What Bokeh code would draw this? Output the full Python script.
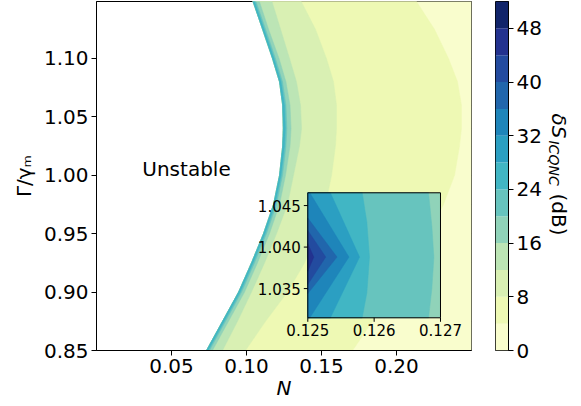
import math
from bokeh.plotting import figure
from bokeh.models import Range1d, FixedTicker, PrintfTickFormatter, ColumnDataSource, Label
from bokeh.layouts import row
from bokeh.embed import file_html
from bokeh.resources import INLINE
from bokeh.core.properties import value

# ---------------- data ----------------
LEVELS = [0, 4, 8, 12, 16, 20, 24, 28, 32, 36, 40, 44, 48, 52]
CB_TICKS = [0, 8, 16, 24, 32, 40, 48]
X_TICKS = [0.05, 0.10, 0.15, 0.20]
Y_TICKS = [0.85, 0.90, 0.95, 1.00, 1.05, 1.10]

# Gamma/gamma_m samples and N-position of the stability edge and of each contour
GAMMA = [0.85, 0.875, 0.90, 0.925, 0.95, 0.975, 1.00, 1.025, 1.04, 1.06, 1.08, 1.10, 1.125, 1.15]
BOUNDARY = [0.0733, 0.0840, 0.0947, 0.1033, 0.1113, 0.1180, 0.1220, 0.1241, 0.1245, 0.1241, 0.1220, 0.1173, 0.1107, 0.1040]
C24 = [0.0743, 0.0850, 0.0957, 0.1043, 0.1123, 0.1190, 0.1230, 0.1253, 0.1259, 0.1253, 0.1230, 0.1183, 0.1117, 0.1050]
C20 = [0.0753, 0.0860, 0.0967, 0.1053, 0.1133, 0.1200, 0.1240, 0.1263, 0.1269, 0.1263, 0.1240, 0.1193, 0.1127, 0.1060]
C16 = [0.0773, 0.0880, 0.0987, 0.1073, 0.1153, 0.1220, 0.1260, 0.1290, 0.1297, 0.1290, 0.1263, 0.1217, 0.1147, 0.1083]
C12 = [0.0840, 0.0940, 0.1033, 0.1120, 0.1200, 0.1273, 0.1313, 0.1353, 0.1367, 0.1360, 0.1333, 0.1287, 0.1227, 0.1167]
C8 = [0.0993, 0.1127, 0.1273, 0.1387, 0.1467, 0.1527, 0.1567, 0.1593, 0.1600, 0.1600, 0.1580, 0.1533, 0.1460, 0.1360]
C4 = [0.1707, 0.1840, 0.1973, 0.2093, 0.2213, 0.2313, 0.2387, 0.2420, 0.2433, 0.2433, 0.2407, 0.2347, 0.2253, 0.2127]
MAIN_CONTOURS = {4: C4, 8: C8, 12: C12, 16: C16, 20: C20, 24: C24}

# inset (zoom near the nose of the stability edge)
IN_X = [0.125, 0.127]
IN_Y = [1.03148, 1.04654]
IN_X_TICKS = [0.125, 0.126, 0.127]
IN_Y_TICKS = [1.035, 1.040, 1.045]
IN_X_LABELS = ["0.125", "0.126", "0.127"]
IN_Y_LABELS = ["1.035", "1.040", "1.045"]
IN_BASE_LEVEL = 16
IN_CONTOURS = {
    20: ([0.12682, 0.12687, 0.12690, 0.12687, 0.12682], [1.03148, 1.0350, 1.0388, 1.0425, 1.04654]),
    24: ([0.12582, 0.12589, 0.12593, 0.12589, 0.12582], [1.03148, 1.0345, 1.0388, 1.0430, 1.04654]),
    28: ([0.12534, 0.12578, 0.12534], [1.03148, 1.0388, 1.04654]),
    32: ([0.12503, 0.12562, 0.12503], [1.03148, 1.0388, 1.04654]),
    36: ([0.12500, 0.12544, 0.12500], [1.0344, 1.0388, 1.0435]),
    40: ([0.12500, 0.12527, 0.12500], [1.0355, 1.0388, 1.0420]),
    44: ([0.12500, 0.12509, 0.12500], [1.0371, 1.0388, 1.0404]),
}

# ---------------- colours (YlGnBu sampled at band mid-points) ----------------
YLGNBU = ["#ffffd9", "#edf8b1", "#c7e9b4", "#7fcdbb", "#41b6c4",
          "#1d91c0", "#225ea8", "#253494", "#081d58"]


def _rgb(h):
    return [int(h[i:i + 2], 16) for i in (1, 3, 5)]


def ylgnbu(t):
    s = t * (len(YLGNBU) - 1)
    i = min(int(s), len(YLGNBU) - 2)
    f = s - i
    a, b = _rgb(YLGNBU[i]), _rgb(YLGNBU[i + 1])
    c = [round(a[k] + (b[k] - a[k]) * f) for k in range(3)]
    return "#%02x%02x%02x" % tuple(c)


VMAX = LEVELS[-1]
BAND_COLORS = [ylgnbu((LEVELS[i] + LEVELS[i + 1]) / 2 / VMAX) for i in range(len(LEVELS) - 1)]


def band_color(level):
    return BAND_COLORS[LEVELS.index(level)]


FONT = "DejaVu Sans"
H = 405
B_TOP, B_BOTTOM = 1, 55

# ---------------- main figure ----------------
X_RANGE = Range1d(0.0, 0.25)
Y_RANGE = Range1d(0.85, 1.1488)
p = figure(width=495, height=H, x_range=X_RANGE, y_range=Y_RANGE,
           output_backend="svg", toolbar_location=None,
           min_border_left=96, min_border_right=24, min_border_top=B_TOP, min_border_bottom=B_BOTTOM)
p.grid.visible = False
p.background_fill_color = "white"
p.outline_line_color = "black"
p.outline_line_alpha = 1.0
p.outline_line_width = 1

for ax, ticks in ((p.xaxis, X_TICKS), (p.yaxis, Y_TICKS)):
    ax.ticker = FixedTicker(ticks=ticks)
    ax.formatter = PrintfTickFormatter(format="%.2f")
    ax.major_label_text_font = FONT
    ax.major_label_text_font_size = "20px"
    ax.major_label_text_color = "black"
    ax.major_tick_out = 5
    ax.major_tick_in = 0
    ax.minor_tick_out = 0
    ax.minor_tick_in = 0
    ax.axis_line_color = "black"
    ax.major_tick_line_color = "black"
    ax.major_label_standoff = 3
    ax.axis_label_text_font = FONT
    ax.axis_label_text_font_size = "20px"
    ax.axis_label_text_color = "black"

p.yaxis.axis_label = "Γ/γₘ"
p.yaxis.axis_label_text_font_style = "normal"
p.yaxis.axis_label_standoff = 5
p.xaxis.axis_label = "N"
p.xaxis.axis_label_text_font_style = "italic"
p.xaxis.axis_label_standoff = 0

# filled bands: region with value > level lies between contour(level) and the stability edge
xs, ys, cols = [], [], []
outer = [X_RANGE.end] * len(GAMMA)
levels_main = [0] + sorted(MAIN_CONTOURS)
for lev in levels_main:
    cn = outer if lev == 0 else MAIN_CONTOURS[lev]
    xs.append(list(cn) + BOUNDARY[::-1])
    ys.append(list(GAMMA) + GAMMA[::-1])
    cols.append(band_color(lev))
p.patches(xs="xs", ys="ys", fill_color="color", line_color="color", line_width=0.5,
          source=ColumnDataSource(dict(xs=xs, ys=ys, color=cols)))

p.add_layout(Label(x=0.06, y=1.005, text="Unstable", text_align="center", text_baseline="middle",
                   text_font=FONT, text_font_size="20px", text_color="black"))

# ---------------- inset ----------------
ins = p.subplot(x_source=Range1d(IN_X[0], IN_X[1]), y_source=Range1d(IN_Y[0], IN_Y[1]),
                x_target=Range1d(0.14087, 0.22933), y_target=Range1d(0.87800, 0.98502))
ins.quad(left=IN_X[0], right=IN_X[1], bottom=IN_Y[0], top=IN_Y[1],
         fill_color=band_color(IN_BASE_LEVEL), line_color=None)
ixs, iys, icols = [], [], []
for lev in sorted(IN_CONTOURS):
    cx, cy = IN_CONTOURS[lev]
    ixs.append([IN_X[0]] + list(cx) + [IN_X[0]])
    iys.append([cy[0]] + list(cy) + [cy[-1]])
    icols.append(band_color(lev))
ins.patches(xs="xs", ys="ys", fill_color="color", line_color="color", line_width=0.5,
            source=ColumnDataSource(dict(xs=ixs, ys=iys, color=icols)))
ins.quad(left=IN_X[0], right=IN_X[1], bottom=IN_Y[0], top=IN_Y[1],
         fill_color=None, line_color="black", line_width=1)
ins.ray(x=IN_X_TICKS, y=[IN_Y[0]] * 3, length=4, length_units="screen", angle=-math.pi / 2,
        line_color="black", line_width=1)
ins.ray(x=[IN_X[0]] * 3, y=IN_Y_TICKS, length=4, length_units="screen", angle=math.pi,
        line_color="black", line_width=1)
ins.text(x=IN_X_TICKS, y=[IN_Y[0]] * 3, text=IN_X_LABELS, text_align="center", text_baseline="top",
         y_offset=6, text_font=value(FONT), text_font_size="15px", text_color="black")
ins.text(x=[IN_X[0]] * 3, y=IN_Y_TICKS, text=IN_Y_LABELS, text_align="right", text_baseline="middle",
         x_offset=-7, text_font=value(FONT), text_font_size="15px", text_color="black")

# ---------------- colour bar ----------------
cb = figure(width=49, height=H, x_range=Range1d(0, 1), y_range=Range1d(LEVELS[0], LEVELS[-1]),
            y_axis_location="right", output_backend="svg", toolbar_location=None,
            min_border_left=0, min_border_right=32, min_border_top=B_TOP, min_border_bottom=B_BOTTOM)
cb.grid.visible = False
cb.xaxis.visible = False
cb.outline_line_color = "black"
cb.outline_line_alpha = 1.0
cb.quad(left=0, right=1, bottom=LEVELS[:-1], top=LEVELS[1:], fill_color=BAND_COLORS, line_color=None)
ya = cb.yaxis[0]
ya.ticker = FixedTicker(ticks=CB_TICKS)
ya.major_label_text_font = FONT
ya.major_label_text_font_size = "20px"
ya.major_label_text_color = "black"
ya.major_tick_out = 5
ya.major_tick_in = 0
ya.minor_tick_out = 0
ya.minor_tick_in = 0
ya.major_label_standoff = 3
ya.axis_line_color = "black"

# colour-bar title: a narrow text-only panel to the right of the bar
lab = figure(width=32, height=H, x_range=Range1d(0, 1), y_range=Range1d(LEVELS[0], LEVELS[-1]),
             output_backend="svg", toolbar_location=None,
             min_border_left=0, min_border_right=0, min_border_top=B_TOP, min_border_bottom=B_BOTTOM)
lab.axis.visible = False
lab.grid.visible = False
lab.outline_line_color = None
lab.text(x=[0.45], y=[35.31], text=["δS"], angle=-math.pi / 2, text_align="left", text_baseline="middle",
         text_font=value(FONT), text_font_size="20px", text_font_style="italic", text_color="black")
lab.text(x=[0.30], y=[31.29], text=["ICQNC"], angle=-math.pi / 2, text_align="left", text_baseline="middle",
         text_font=value(FONT), text_font_size="14px", text_font_style="italic", text_color="black")
lab.text(x=[0.45], y=[23.39], text=["(dB)"], angle=-math.pi / 2, text_align="left", text_baseline="middle",
         text_font=value(FONT), text_font_size="20px", text_color="black")

layout = row(p, cb, lab)
open("out.html", "w").write(file_html(layout, INLINE))
